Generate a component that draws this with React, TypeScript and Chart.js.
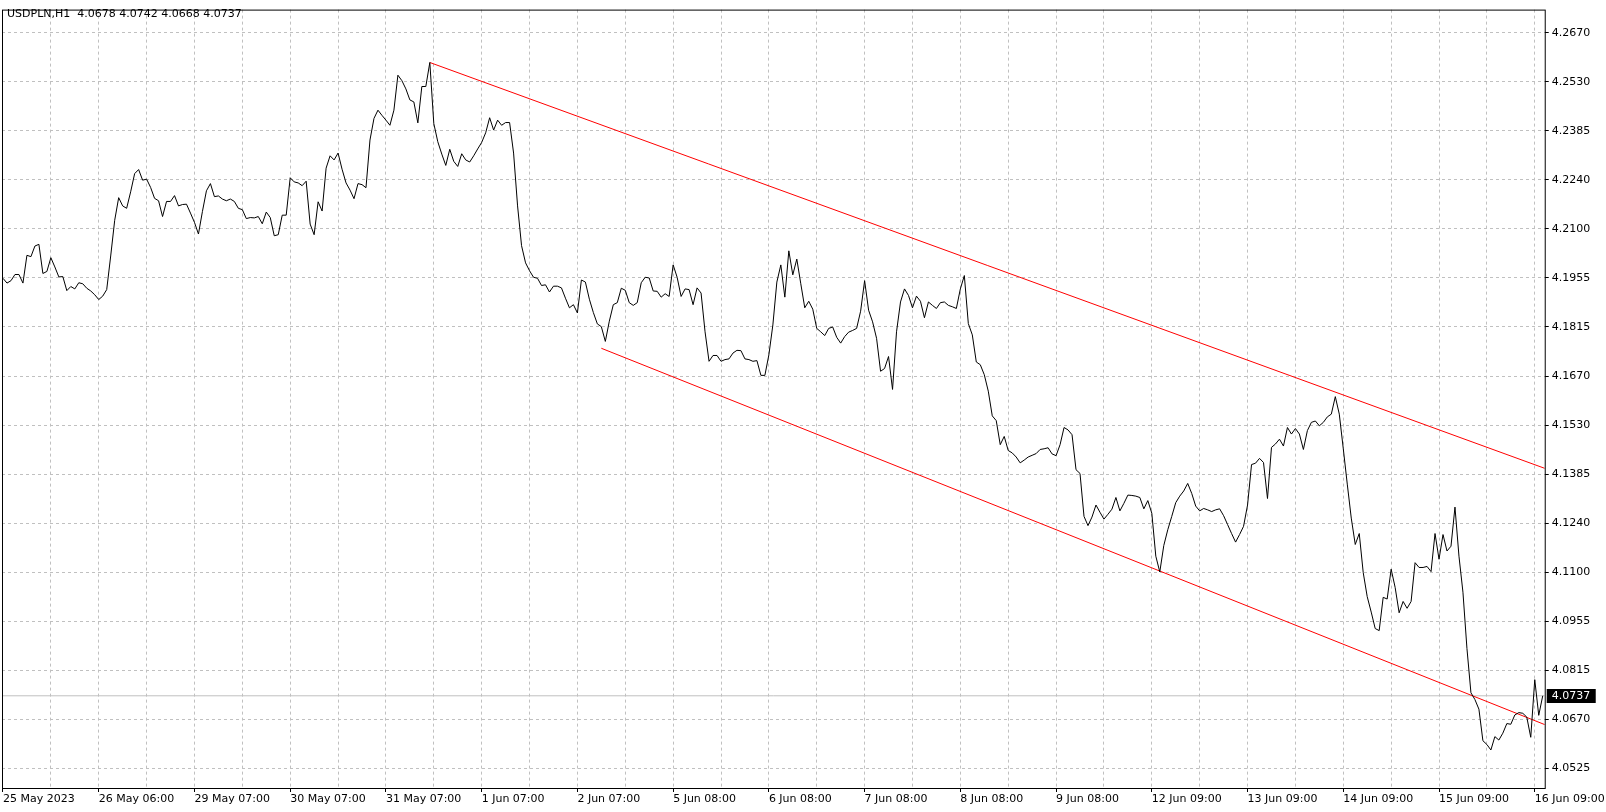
import React, { useEffect, useRef } from "react";
import { Chart, registerables } from "chart.js";

Chart.register(...registerables);

// ---------- data ----------
const symbolTitle = "USDPLN,H1";
const lastBarOHLC = [4.0678, 4.0742, 4.0668, 4.0737];
const lastPrice = 4.0737;

// date labels, one every 24 hourly bars starting at bar 0
const xTickLabels = [
  "25 May 2023", "26 May 06:00", "29 May 07:00", "30 May 07:00", "31 May 07:00",
  "1 Jun 07:00", "2 Jun 07:00", "5 Jun 08:00", "6 Jun 08:00", "7 Jun 08:00",
  "8 Jun 08:00", "9 Jun 08:00", "12 Jun 09:00", "13 Jun 09:00", "14 Jun 09:00",
  "15 Jun 09:00", "16 Jun 09:00",
];

// price axis labels, top to bottom
const yTickLabels = [
  "4.2670", "4.2530", "4.2385", "4.2240", "4.2100", "4.1955", "4.1815", "4.1670",
  "4.1530", "4.1385", "4.1240", "4.1100", "4.0955", "4.0815", "4.0670", "4.0525",
];

// hourly close prices (bar 0 = 25 May 2023)
const closePrices = [
  4.1954, 4.1940, 4.1947, 4.1965, 4.1965, 4.1940, 4.2021, 4.2017, 4.2048, 4.2053,
  4.1968, 4.1974, 4.2014, 4.1987, 4.1958, 4.1959, 4.1918, 4.1930, 4.1923, 4.1941,
  4.1938, 4.1925, 4.1917, 4.1906, 4.1892, 4.1902, 4.1921, 4.2019, 4.2123, 4.2189,
  4.2165, 4.2158, 4.2206, 4.2259, 4.2271, 4.2240, 4.2243, 4.2219, 4.2187, 4.2180,
  4.2134, 4.2178, 4.2178, 4.2195, 4.2165, 4.2169, 4.2170, 4.2144, 4.2117, 4.2083,
  4.2149, 4.2209, 4.2230, 4.2192, 4.2194, 4.2185, 4.2180, 4.2185, 4.2178, 4.2158,
  4.2154, 4.2128, 4.2131, 4.2130, 4.2134, 4.2113, 4.2147, 4.2131, 4.2078, 4.2081,
  4.2138, 4.2138, 4.2247, 4.2235, 4.2232, 4.2224, 4.2237, 4.2112, 4.2081, 4.2177,
  4.2150, 4.2275, 4.2311, 4.2299, 4.2319, 4.2272, 4.2232, 4.2211, 4.2186, 4.2230,
  4.2227, 4.2218, 4.2357, 4.2420, 4.2444, 4.2429, 4.2415, 4.2400, 4.2444, 4.2546,
  4.2530, 4.2506, 4.2474, 4.2468, 4.2407, 4.2513, 4.2513, 4.2583, 4.2405, 4.2352,
  4.2316, 4.2283, 4.2330, 4.2295, 4.2280, 4.2317, 4.2299, 4.2293, 4.2311, 4.2331,
  4.2350, 4.2378, 4.2422, 4.2386, 4.2415, 4.2400, 4.2408, 4.2408, 4.2319, 4.2165,
  4.2049, 4.1999, 4.1976, 4.1957, 4.1954, 4.1933, 4.1935, 4.1914, 4.1931, 4.1931,
  4.1926, 4.1896, 4.1868, 4.1877, 4.1853, 4.1949, 4.1943, 4.1893, 4.1854, 4.1821,
  4.1813, 4.1770, 4.1829, 4.1877, 4.1883, 4.1925, 4.1919, 4.1883, 4.1875, 4.1883,
  4.1941, 4.1957, 4.1955, 4.1917, 4.1916, 4.1899, 4.1909, 4.1901, 4.1993, 4.1957,
  4.1901, 4.1923, 4.1921, 4.1877, 4.1926, 4.1911, 4.1798, 4.1712, 4.1729, 4.1729,
  4.1712, 4.1717, 4.1719, 4.1736, 4.1744, 4.1743, 4.1719, 4.1717, 4.1712, 4.1714,
  4.1671, 4.1671, 4.1731, 4.1818, 4.1943, 4.1993, 4.1899, 4.2034, 4.1964, 4.2010,
  4.1938, 4.1868, 4.1887, 4.1864, 4.1808, 4.1798, 4.1787, 4.1808, 4.1812, 4.1782,
  4.1765, 4.1784, 4.1797, 4.1802, 4.1808, 4.1858, 4.1947, 4.1861, 4.1827, 4.1779,
  4.1683, 4.1691, 4.1726, 4.1630, 4.1798, 4.1885, 4.1923, 4.1904, 4.1868, 4.1902,
  4.1887, 4.1839, 4.1885, 4.1875, 4.1866, 4.1883, 4.1885, 4.1875, 4.1871, 4.1866,
  4.1923, 4.1962, 4.1822, 4.1789, 4.1710, 4.1702, 4.1673, 4.1625, 4.1553, 4.1539,
  4.1469, 4.1493, 4.1452, 4.1445, 4.1433, 4.1416, 4.1424, 4.1433, 4.1438, 4.1443,
  4.1455, 4.1457, 4.1460, 4.1442, 4.1437, 4.1469, 4.1519, 4.1512, 4.1498, 4.1396,
  4.1385, 4.1260, 4.1233, 4.1258, 4.1293, 4.1272, 4.1252, 4.1266, 4.1281, 4.1315,
  4.1276, 4.1298, 4.1322, 4.1321, 4.1319, 4.1315, 4.1282, 4.1306, 4.1269, 4.1144,
  4.1098, 4.1175, 4.1221, 4.1260, 4.1300, 4.1319, 4.1334, 4.1356, 4.1327, 4.1290,
  4.1276, 4.1283, 4.1279, 4.1274, 4.1279, 4.1282, 4.1262, 4.1236, 4.1210, 4.1185,
  4.1207, 4.1231, 4.1293, 4.1411, 4.1415, 4.1429, 4.1417, 4.1312, 4.1461, 4.1471,
  4.1485, 4.1465, 4.1519, 4.1500, 4.1516, 4.1500, 4.1455, 4.1510, 4.1534, 4.1538,
  4.1524, 4.1534, 4.1550, 4.1558, 4.1609, 4.1558, 4.1457, 4.1354, 4.1255, 4.1178,
  4.1210, 4.1096, 4.1026, 4.0981, 4.0933, 4.0927, 4.1024, 4.1019, 4.1106, 4.1053,
  4.0979, 4.1012, 4.0992, 4.1012, 4.1125, 4.1111, 4.1111, 4.1114, 4.1099, 4.1210,
  4.1135, 4.1207, 4.1159, 4.1173, 4.1287, 4.1144, 4.1039, 4.0875, 4.0746, 4.0726,
  4.0698, 4.0606, 4.0595, 4.0579, 4.0618, 4.0608, 4.0628, 4.0656, 4.0654, 4.0681,
  4.0688, 4.0686, 4.0675, 4.0616, 4.0784, 4.0680, 4.0737,
];

// trend lines (bar index, price)
const upperTrendBars = [107, 386.5];
const upperTrendPrices = [4.2583, 4.14];
const lowerTrendBars = [150, 386.5];
const lowerTrendPrices = [4.175, 4.0653];

// ---------- axis configuration ----------
const X_MIN = -0.25;
const X_MAX = 386.5;
const Y_MIN = 4.04682;
const Y_MAX = 4.27372;
const Y_TICK_TOP = 4.267;
const Y_TICK_STEP = 0.0143;
const GRID_BARS = 12;
const LABEL_BARS = 24;
const FONT = "DejaVu Sans";

const decorPlugin = {
  id: "mtDecor",
  afterDraw(chart: any) {
    const { ctx, chartArea: a } = chart;
    ctx.save();
    // frame
    ctx.strokeStyle = "#000";
    ctx.lineWidth = 1;
    ctx.setLineDash([]);
    ctx.strokeRect(a.left + 0.5, a.top + 0.5, a.right - a.left, a.bottom - a.top);
    // last price box
    const y = chart.scales.y.getPixelForValue(lastPrice);
    ctx.fillStyle = "#000";
    ctx.fillRect(a.right + 2, Math.round(y) - 7, 49, 14);
    ctx.fillStyle = "#fff";
    ctx.font = `11px "${FONT}"`;
    ctx.textAlign = "left";
    ctx.textBaseline = "middle";
    ctx.fillText(lastPrice.toFixed(4), a.right + 7, Math.round(y) + 0.5);
    // title
    ctx.fillStyle = "#000";
    ctx.textBaseline = "alphabetic";
    ctx.fillText(
      symbolTitle + "  " + lastBarOHLC.map((v) => v.toFixed(4)).join(" "),
      7,
      17
    );
    ctx.restore();
  },
};

export default function App() {
  const canvasRef = useRef<HTMLCanvasElement | null>(null);

  useEffect(() => {
    const canvas = canvasRef.current;
    if (!canvas) return;

    const gridBars: number[] = [];
    for (let b = 0; b <= X_MAX; b += GRID_BARS) gridBars.push(b);
    const yTickValues = yTickLabels.map((_, j) => Y_TICK_TOP - j * Y_TICK_STEP);

    const chart = new Chart(canvas, {
      type: "line",
      data: {
        datasets: [
          {
            label: "close",
            data: closePrices.map((v, i) => ({ x: i, y: v })),
            borderColor: "#000",
            borderWidth: 1,
            pointRadius: 0,
            tension: 0,
            fill: false,
          },
          {
            label: "upper",
            data: upperTrendBars.map((b, i) => ({ x: b, y: upperTrendPrices[i] })),
            borderColor: "#ff0000",
            borderWidth: 1,
            pointRadius: 0,
            fill: false,
          },
          {
            label: "lower",
            data: lowerTrendBars.map((b, i) => ({ x: b, y: lowerTrendPrices[i] })),
            borderColor: "#ff0000",
            borderWidth: 1,
            pointRadius: 0,
            fill: false,
          },
          {
            label: "last",
            data: [
              { x: X_MIN, y: lastPrice },
              { x: X_MAX, y: lastPrice },
            ],
            borderColor: "#c0c0c0",
            borderWidth: 1,
            pointRadius: 0,
            fill: false,
          },
        ],
      },
      options: {
        animation: false,
        responsive: false,
        maintainAspectRatio: false,
        events: [],
        layout: {
          autoPadding: false,
          padding: { left: 2, top: 1, right: 0, bottom: 0 },
        } as any,
        plugins: {
          legend: { display: false },
          tooltip: { enabled: false },
          title: { display: false },
        },
        scales: {
          x: {
            type: "linear",
            position: "bottom",
            min: X_MIN,
            max: X_MAX,
            bounds: "data",
            afterBuildTicks: (s: any) => {
              s.ticks = gridBars.map((v) => ({ value: v }));
            },
            afterFit: (s: any) => {
              s.height = 24;
            },
            grid: {
              color: (c: any) =>
                c.tick && c.tick.value === 0 ? "rgba(0,0,0,0)" : "#c0c0c0",
              lineWidth: 1,
              drawTicks: true,
              tickLength: 4,
              tickColor: (c: any) =>
                c.tick && c.tick.value % LABEL_BARS === 0 ? "#000" : "rgba(0,0,0,0)",
            },
            border: { display: false, dash: [3, 3] },
            ticks: {
              autoSkip: false,
              maxRotation: 0,
              minRotation: 0,
              align: "start",
              padding: 1,
              color: "#000",
              font: { family: FONT, size: 11 },
              callback: (v: any) =>
                Number(v) % LABEL_BARS === 0
                  ? xTickLabels[Number(v) / LABEL_BARS] ?? ""
                  : "",
            },
          },
          y: {
            type: "linear",
            position: "right",
            min: Y_MIN,
            max: Y_MAX,
            bounds: "data",
            afterBuildTicks: (s: any) => {
              s.ticks = yTickValues.map((v) => ({ value: v }));
            },
            afterFit: (s: any) => {
              s.width = 57;
            },
            grid: {
              color: "#c0c0c0",
              lineWidth: 1,
              drawTicks: true,
              tickLength: 4,
              tickColor: "#000",
            },
            border: { display: false, dash: [3, 3] },
            ticks: {
              autoSkip: false,
              padding: 3,
              color: "#000",
              font: { family: FONT, size: 11 },
              callback: (_v: any, index: number) => yTickLabels[index],
            },
          },
        },
      } as any,
      plugins: [decorPlugin],
    });

    return () => {
      chart.destroy();
    };
  }, []);

  return (
    <div
      style={{
        position: "absolute",
        left: 0,
        top: 0,
        width: 1606,
        height: 812,
        background: "#fff",
      }}
    >
      <canvas ref={canvasRef} width={1606} height={812} />
    </div>
  );
}
